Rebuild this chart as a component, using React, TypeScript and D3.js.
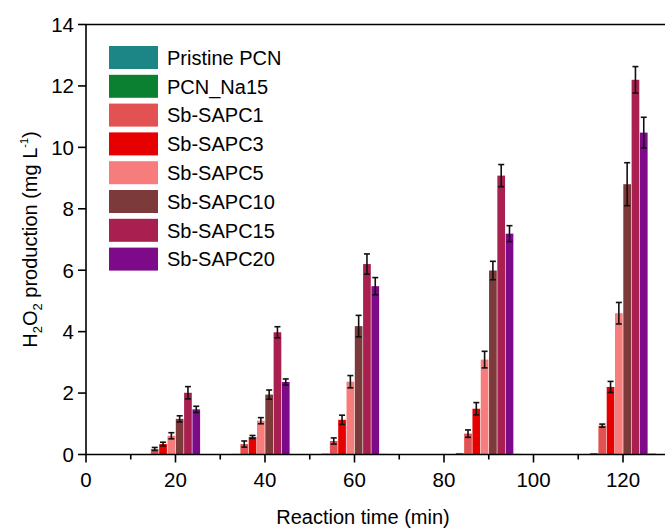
import React from "react";
import * as d3 from "d3";

const times = [20, 40, 60, 90, 120];
const seriesNames = ["Pristine PCN", "PCN_Na15", "Sb-SAPC1", "Sb-SAPC3", "Sb-SAPC5", "Sb-SAPC10", "Sb-SAPC15", "Sb-SAPC20"];
const seriesColors = ["#1c8585", "#0a8030", "#e25252", "#e60000", "#f77d7d", "#7c3a3a", "#a91f50", "#7d0a88"];
// slot order of the bars inside each group
const slotOrder = ["Pristine PCN", "Sb-SAPC1", "Sb-SAPC3", "Sb-SAPC5", "Sb-SAPC10", "Sb-SAPC15", "Sb-SAPC20", "PCN_Na15"];

const pristinePCN = [0.0, 0.02, 0.03, 0.05, 0.05];
const pcnNa15 = [0.0, 0.01, 0.02, 0.02, 0.03];
const sapc1 = [0.18, 0.34, 0.44, 0.68, 0.94];
const sapc3 = [0.34, 0.57, 1.13, 1.49, 2.2];
const sapc5 = [0.61, 1.1, 2.37, 3.09, 4.6];
const sapc10 = [1.16, 1.95, 4.18, 5.99, 8.8];
const sapc15 = [2.01, 3.98, 6.2, 9.08, 12.2];
const sapc20 = [1.47, 2.36, 5.48, 7.19, 10.48];

const err1 = [0.05, 0.1, 0.1, 0.12, 0.05];
const err3 = [0.06, 0.05, 0.15, 0.2, 0.18];
const err5 = [0.1, 0.1, 0.2, 0.27, 0.35];
const err10 = [0.1, 0.15, 0.35, 0.3, 0.7];
const err15 = [0.2, 0.18, 0.33, 0.36, 0.43];
const err20 = [0.1, 0.1, 0.28, 0.26, 0.5];

const xTicks = [0, 20, 40, 60, 80, 100, 120];
const xMinorTicks = [10, 30, 50, 70, 90, 110];
const yTicks = [0, 2, 4, 6, 8, 10, 12, 14];

const valuesByName: Record<string, number[]> = {
  "Pristine PCN": pristinePCN,
  "PCN_Na15": pcnNa15,
  "Sb-SAPC1": sapc1,
  "Sb-SAPC3": sapc3,
  "Sb-SAPC5": sapc5,
  "Sb-SAPC10": sapc10,
  "Sb-SAPC15": sapc15,
  "Sb-SAPC20": sapc20,
};
const errByName: Record<string, number[] | null> = {
  "Pristine PCN": null,
  "PCN_Na15": null,
  "Sb-SAPC1": err1,
  "Sb-SAPC3": err3,
  "Sb-SAPC5": err5,
  "Sb-SAPC10": err10,
  "Sb-SAPC15": err15,
  "Sb-SAPC20": err20,
};

export default function App() {
  const W = 665, H = 529;
  const left = 86, top = 24.5, bottom = 454.5;
  const x = d3.scaleLinear().domain([0, 130]).range([left, left + 130 * 4.475]);
  const y = d3.scaleLinear().domain([0, 14]).range([bottom, top]);
  const barW = x(1.855) - x(0);
  const font = "Arial, 'Liberation Sans', sans-serif";
  const colorOf = (n: string) => seriesColors[seriesNames.indexOf(n)];

  const bars: React.ReactNode[] = [];
  const errs: React.ReactNode[] = [];
  times.forEach((t, gi) => {
    slotOrder.forEach((name, si) => {
      const v = valuesByName[name][gi];
      const x0 = x(t) + (si - 4) * barW;
      if (v > 0) {
        bars.push(
          <rect key={`b${gi}-${si}`} x={x0 + 0.3} y={y(v)} width={barW - 0.6} height={y(0) - y(v)} fill={colorOf(name)} />
        );
      }
      const e = errByName[name];
      if (e) {
        const cx = x0 + barW / 2;
        const y1 = y(v + e[gi]);
        const y2 = y(v - e[gi]);
        const cw = 3;
        errs.push(
          <g key={`e${gi}-${si}`} stroke="#111" strokeWidth={1.6}>
            <line x1={cx} x2={cx} y1={y1} y2={y2} />
            <line x1={cx - cw} x2={cx + cw} y1={y1} y2={y1} />
            <line x1={cx - cw} x2={cx + cw} y1={y2} y2={y2} />
          </g>
        );
      }
    });
  });

  return (
    <svg width={W} height={H} style={{ position: "absolute", left: 0, top: 0, background: "#fff" }} fontFamily={font}>
      <rect x={0} y={0} width={W} height={H} fill="#fff" />
      {bars}
      {errs}
      {/* axes */}
      <line x1={left} x2={W} y1={top} y2={top} stroke="#000" strokeWidth={1.6} />
      <line x1={left} x2={W} y1={bottom} y2={bottom} stroke="#000" strokeWidth={1.6} />
      <line x1={left} x2={left} y1={top} y2={bottom} stroke="#000" strokeWidth={1.6} />
      {yTicks.map((v) => (
        <g key={`yt${v}`}>
          <line x1={left - 8} x2={left} y1={y(v)} y2={y(v)} stroke="#000" strokeWidth={1.6} />
          <text x={left - 12} y={y(v)} dy="0.36em" textAnchor="end" fontSize={20.5}>{v}</text>
        </g>
      ))}
      {xTicks.map((v) => (
        <g key={`xt${v}`}>
          <line x1={x(v)} x2={x(v)} y1={bottom} y2={bottom + 8} stroke="#000" strokeWidth={1.6} />
          <text x={x(v)} y={bottom + 32} textAnchor="middle" fontSize={20.5}>{v}</text>
        </g>
      ))}
      {xMinorTicks.map((v) => (
        <line key={`xm${v}`} x1={x(v)} x2={x(v)} y1={bottom} y2={bottom + 5} stroke="#000" strokeWidth={1.6} />
      ))}
      <text x={363} y={524} textAnchor="middle" fontSize={20}>Reaction time (min)</text>
      <text transform={`translate(37, ${(top + bottom) / 2}) rotate(-90)`} textAnchor="middle" fontSize={20}>
        <tspan>H</tspan>
        <tspan fontSize={13} dy={5}>2</tspan>
        <tspan dy={-5}>O</tspan>
        <tspan fontSize={13} dy={5}>2</tspan>
        <tspan dy={-5}> production (mg L</tspan>
        <tspan fontSize={11} dy={-9}>-1</tspan>
        <tspan dy={9}>)</tspan>
      </text>
      {/* legend */}
      {seriesNames.map((n, i) => {
        const cy = 57.5 + i * 28.8;
        return (
          <g key={`lg${i}`}>
            <rect x={109} y={cy - 11.5} width={49} height={23} fill={seriesColors[i]} />
            <text x={167} y={cy} dy="0.36em" fontSize={20}>{n}</text>
          </g>
        );
      })}
    </svg>
  );
}
